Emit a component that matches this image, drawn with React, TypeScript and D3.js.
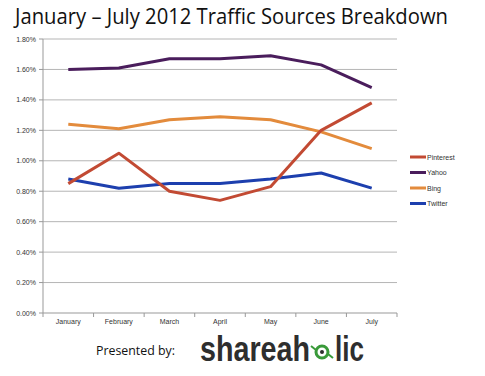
import React from "react";
import * as d3 from "d3";

const months = ["January", "February", "March", "April", "May", "June", "July"];
const seriesNames = ["Pinterest", "Yahoo", "Bing", "Twitter"];
const pinterest = [0.85, 1.05, 0.80, 0.74, 0.83, 1.20, 1.38];
const yahoo = [1.60, 1.61, 1.67, 1.67, 1.69, 1.63, 1.48];
const bing = [1.24, 1.21, 1.27, 1.29, 1.27, 1.19, 1.08];
const twitter = [0.88, 0.82, 0.85, 0.85, 0.88, 0.92, 0.82];
const yTicks = [0, 0.2, 0.4, 0.6, 0.8, 1.0, 1.2, 1.4, 1.6, 1.8];

const colors: Record<string, string> = {
  Pinterest: "#c24a33",
  Yahoo: "#4a1d5c",
  Bing: "#e38b3c",
  Twitter: "#1d3fae",
};

const dataMap: Record<string, number[]> = { Pinterest: pinterest, Yahoo: yahoo, Bing: bing, Twitter: twitter };

export default function App() {
  const W = 485, H = 376;
  const left = 43, right = 397, top = 39, bottom = 313;
  const x = d3.scaleBand<string>().domain(months).range([left, right]);
  const y = d3.scaleLinear().domain([0, 1.8]).range([bottom, top]);
  const line = d3.line<number>()
    .x((_, i) => (x(months[i]) as number) + x.bandwidth() / 2)
    .y((d) => y(d));
  const drawOrder = ["Yahoo", "Bing", "Twitter", "Pinterest"];
  const font = "'Liberation Sans', Arial, sans-serif";
  return (
    <svg width={W} height={H} style={{ position: "absolute", left: 0, top: 0, background: "#fff" }}>
      <rect x={0} y={0} width={W} height={H} fill="#fff" />
      <text x={15} y={24} fontFamily="'Open Sans', sans-serif" fontSize={21} fill="#111" textLength={433} lengthAdjust="spacingAndGlyphs">
        January – July 2012 Traffic Sources Breakdown
      </text>
      {yTicks.map((t) => (
        <g key={t}>
          {t > 0 && <line x1={left} x2={right} y1={y(t)} y2={y(t)} stroke="#b5b5b5" strokeWidth={1} />}
          <line x1={left - 4} x2={left} y1={y(t)} y2={y(t)} stroke="#999" />
          <text x={36} y={y(t) + 2.5} textAnchor="end" fontFamily={font} fontSize={7} fill="#333">
            {t.toFixed(2) + "%"}
          </text>
        </g>
      ))}
      <line x1={left} x2={left} y1={top} y2={bottom} stroke="#999" />
      <line x1={left} x2={right} y1={bottom} y2={bottom} stroke="#999" />
      {months.concat(["end"]).map((m, i) => {
        const xx = left + i * x.step();
        return <line key={m} x1={xx} x2={xx} y1={bottom} y2={bottom + 4} stroke="#999" />;
      })}
      {months.map((m) => (
        <text key={m} x={(x(m) as number) + x.bandwidth() / 2} y={324} textAnchor="middle" fontFamily={font} fontSize={7} fill="#333">
          {m}
        </text>
      ))}
      {drawOrder.map((s) => (
        <path key={s} d={line(dataMap[s]) as string} fill="none" stroke={colors[s]} strokeWidth={3} strokeLinejoin="round" />
      ))}
      {seriesNames.map((s, i) => (
        <g key={s}>
          <line x1={410} x2={426} y1={157 + i * 15.5} y2={157 + i * 15.5} stroke={colors[s]} strokeWidth={3} />
          <text x={427} y={159.5 + i * 15.5} fontFamily={font} fontSize={7} fill="#333">{s}</text>
        </g>
      ))}
      <text x={96} y={355} fontFamily="'Open Sans', sans-serif" fontSize={13} fill="#111" textLength={79} lengthAdjust="spacingAndGlyphs">
        Presented by:
      </text>
      <text x={200} y={361} fontFamily="'Liberation Sans', Arial, sans-serif" fontWeight="bold" fontSize={35} fill="#2e2e2e" textLength={110} lengthAdjust="spacingAndGlyphs">
        shareah
      </text>
      <g>
        <circle cx={322} cy={352} r={6} fill="none" stroke="#3a9a3a" strokeWidth={3} />
        <circle cx={322} cy={352} r={2} fill="#2e2e2e" />
        <line x1={311} x2={316} y1={346} y2={350} stroke="#3a9a3a" strokeWidth={2} />
        <line x1={328} x2={333} y1={354} y2={358} stroke="#3a9a3a" strokeWidth={2} />
      </g>
      <text x={335} y={361} fontFamily="'Liberation Sans', Arial, sans-serif" fontWeight="bold" fontSize={35} fill="#2e2e2e" textLength={29} lengthAdjust="spacingAndGlyphs">
        lic
      </text>
    </svg>
  );
}
